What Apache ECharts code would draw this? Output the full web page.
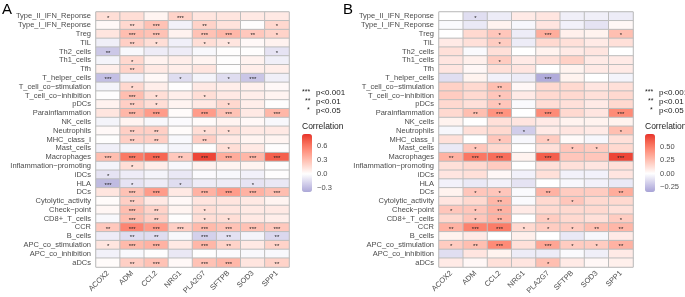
<!DOCTYPE html>
<html>
<head>
<meta charset="utf-8">
<script src="https://cdn.jsdelivr.net/npm/echarts@6/dist/echarts.min.js"></script>
<style>
html, body { margin: 0; padding: 0; background: #fff; }
#chart { width: 685px; height: 297px; }
</style>
</head>
<body>
<div id="chart"></div>
<script>
// row / column labels (top to bottom)
var rows = ['Type_II_IFN_Reponse', 'Type_I_IFN_Reponse', 'Treg', 'TIL', 'Th2_cells', 'Th1_cells', 'Tfh',
	'T_helper_cells', 'T_cell_co\u2212stimulation', 'T_cell_co\u2212inhibition', 'pDCs', 'Parainflammation',
	'NK_cells', 'Neutrophils', 'MHC_class_I', 'Mast_cells', 'Macrophages', 'Inflammation\u2212promoting',
	'iDCs', 'HLA', 'DCs', 'Cytolytic_activity', 'Check\u2212point', 'CD8+_T_cells', 'CCR', 'B_cells',
	'APC_co_stimulation', 'APC_co_inhibition', 'aDCs'];
var genes = ['ACOX2', 'ADM', 'CCL2', 'NRG1', 'PLA2G7', 'SFTPB', 'SOD3', 'SPP1'];

// panel A correlations
var corA = [
	[0.15, 0.15, 0.05, 0.20, 0.12, 0.12, 0.10, 0.10],
	[0.03, 0.18, 0.28, -0.06, 0.20, 0.13, 0.00, 0.18],
	[0.12, 0.30, 0.28, 0.06, 0.28, 0.33, 0.25, 0.20],
	[-0.07, 0.22, 0.15, -0.07, 0.15, 0.12, 0.03, 0.06],
	[-0.24, -0.03, -0.08, -0.08, -0.03, 0.00, 0.00, -0.12],
	[-0.05, 0.18, 0.06, 0.08, 0.05, 0.00, 0.06, -0.07],
	[0.08, 0.20, 0.10, 0.08, 0.12, 0.00, 0.08, 0.08],
	[-0.28, -0.06, 0.03, -0.15, -0.05, -0.15, -0.25, -0.07],
	[-0.05, 0.18, 0.08, 0.00, 0.10, 0.08, 0.07, 0.03],
	[0.00, 0.30, 0.15, 0.08, 0.15, 0.10, 0.08, 0.05],
	[0.06, 0.22, 0.15, 0.05, 0.10, 0.18, 0.08, 0.00],
	[0.12, 0.33, 0.45, 0.02, 0.45, 0.28, 0.10, 0.33],
	[-0.05, 0.05, -0.03, -0.02, 0.02, 0.05, 0.03, -0.03],
	[0.03, 0.22, 0.22, 0.02, 0.15, 0.15, 0.10, 0.10],
	[0.00, 0.22, 0.22, -0.03, 0.22, 0.10, 0.05, 0.05],
	[-0.07, -0.05, -0.03, -0.05, 0.00, 0.15, 0.10, 0.00],
	[0.30, 0.60, 0.68, 0.25, 0.80, 0.38, 0.33, 0.70],
	[-0.05, 0.15, 0.08, -0.03, 0.06, 0.05, 0.05, 0.00],
	[-0.12, -0.08, -0.05, -0.10, -0.02, -0.03, -0.06, 0.00],
	[-0.30, -0.12, -0.08, -0.15, -0.08, -0.08, -0.12, -0.10],
	[0.12, 0.28, 0.45, 0.10, 0.35, 0.45, 0.35, 0.30],
	[0.02, 0.22, 0.10, 0.03, 0.12, 0.12, 0.10, 0.05],
	[0.04, 0.30, 0.20, 0.05, 0.15, 0.12, 0.10, 0.10],
	[-0.03, 0.30, 0.22, 0.00, 0.15, 0.15, 0.10, 0.08],
	[0.25, 0.55, 0.45, 0.22, 0.32, 0.28, 0.28, 0.25],
	[-0.08, -0.15, -0.15, -0.03, -0.20, -0.13, -0.05, -0.17],
	[0.12, 0.32, 0.35, 0.10, 0.33, 0.20, 0.10, 0.20],
	[-0.06, -0.03, 0.00, -0.10, 0.00, -0.02, -0.03, -0.03],
	[0.02, 0.22, 0.28, 0.03, 0.28, 0.33, 0.12, 0.20]
];
// panel A significance (number of stars)
var sigA = [
	[1, 0, 0, 3, 0, 0, 0, 0],
	[0, 2, 3, 0, 2, 0, 0, 1],
	[0, 3, 3, 0, 3, 3, 2, 1],
	[0, 2, 1, 0, 1, 1, 0, 0],
	[2, 0, 0, 0, 0, 0, 0, 1],
	[0, 1, 0, 0, 0, 0, 0, 0],
	[0, 2, 0, 0, 0, 0, 0, 0],
	[3, 0, 0, 1, 0, 1, 3, 0],
	[0, 1, 0, 0, 0, 0, 0, 0],
	[0, 3, 1, 0, 1, 0, 0, 0],
	[0, 2, 1, 0, 0, 1, 0, 0],
	[0, 3, 3, 0, 3, 3, 0, 3],
	[0, 0, 0, 0, 0, 0, 0, 0],
	[0, 2, 2, 0, 1, 1, 0, 0],
	[0, 2, 2, 0, 2, 0, 0, 0],
	[0, 0, 0, 0, 0, 1, 0, 0],
	[3, 3, 3, 2, 3, 3, 3, 3],
	[0, 1, 0, 0, 0, 0, 0, 0],
	[1, 0, 0, 0, 0, 0, 0, 0],
	[3, 1, 0, 1, 0, 0, 1, 0],
	[0, 3, 3, 0, 3, 3, 3, 3],
	[0, 2, 0, 0, 0, 0, 0, 0],
	[0, 3, 2, 0, 1, 0, 0, 0],
	[0, 3, 2, 0, 1, 1, 0, 0],
	[2, 3, 3, 3, 3, 3, 3, 3],
	[0, 2, 2, 0, 3, 2, 0, 2],
	[1, 3, 3, 0, 3, 2, 0, 2],
	[0, 0, 0, 0, 0, 0, 0, 0],
	[0, 2, 3, 0, 3, 3, 0, 2]
];

// panel B correlations
var corB = [
	[0.00, -0.12, -0.07, 0.08, 0.10, -0.06, -0.06, -0.07],
	[-0.02, -0.08, 0.05, -0.03, 0.10, -0.05, -0.10, 0.03],
	[0.00, 0.15, 0.22, -0.07, 0.32, 0.06, 0.05, 0.25],
	[0.08, 0.12, 0.20, -0.07, 0.15, 0.12, 0.08, 0.12],
	[0.12, -0.02, 0.12, 0.00, 0.05, 0.08, 0.10, 0.00],
	[0.10, 0.06, 0.20, 0.08, 0.12, 0.18, 0.08, 0.08],
	[0.10, 0.03, 0.12, 0.10, 0.00, 0.05, 0.08, 0.08],
	[-0.12, 0.05, -0.05, -0.07, -0.30, 0.05, 0.00, -0.04],
	[0.18, 0.15, 0.25, 0.03, 0.15, 0.15, 0.10, 0.12],
	[0.20, 0.15, 0.22, 0.08, 0.15, 0.15, 0.12, 0.15],
	[0.15, 0.12, 0.22, -0.02, 0.13, 0.12, 0.08, 0.15],
	[0.15, 0.25, 0.42, 0.00, 0.45, 0.15, 0.10, 0.45],
	[0.05, 0.00, 0.12, 0.10, 0.08, 0.05, 0.05, 0.05],
	[-0.03, 0.12, 0.15, -0.18, 0.08, 0.10, 0.08, 0.25],
	[0.12, 0.00, 0.22, -0.03, 0.20, 0.02, -0.03, 0.12],
	[-0.08, 0.22, 0.15, 0.00, 0.12, 0.22, 0.20, 0.15],
	[0.30, 0.52, 0.55, 0.05, 0.60, 0.22, 0.22, 0.68],
	[0.12, 0.15, 0.20, 0.00, 0.12, 0.12, 0.10, 0.12],
	[0.10, 0.12, 0.03, -0.05, 0.12, -0.05, -0.05, 0.10],
	[-0.05, -0.08, -0.05, -0.10, 0.00, -0.03, -0.05, -0.08],
	[0.05, 0.22, 0.22, -0.02, 0.30, 0.20, 0.20, 0.32],
	[0.10, 0.15, 0.28, -0.02, 0.15, 0.22, 0.15, 0.15],
	[0.22, 0.22, 0.30, 0.08, 0.15, 0.15, 0.15, 0.12],
	[0.15, 0.22, 0.30, 0.00, 0.20, 0.15, 0.12, 0.20],
	[0.30, 0.48, 0.50, 0.15, 0.20, 0.20, 0.25, 0.28],
	[0.05, 0.08, 0.00, 0.06, 0.00, -0.08, -0.03, 0.08],
	[0.20, 0.25, 0.45, 0.12, 0.35, 0.20, 0.20, 0.30],
	[-0.12, 0.10, 0.05, -0.07, -0.07, -0.02, -0.06, 0.08],
	[0.08, 0.03, 0.12, 0.10, 0.25, 0.08, 0.03, 0.06]
];
var sigB = [
	[0, 1, 0, 0, 0, 0, 0, 0],
	[0, 0, 0, 0, 0, 0, 0, 0],
	[0, 0, 1, 0, 3, 0, 0, 1],
	[0, 0, 1, 0, 0, 0, 0, 0],
	[0, 0, 0, 0, 0, 0, 0, 0],
	[0, 0, 1, 0, 0, 0, 0, 0],
	[0, 0, 0, 0, 0, 0, 0, 0],
	[0, 0, 0, 0, 3, 0, 0, 0],
	[0, 0, 2, 0, 0, 0, 0, 0],
	[0, 0, 1, 0, 0, 0, 0, 0],
	[0, 0, 1, 0, 0, 0, 0, 0],
	[0, 2, 3, 0, 3, 0, 0, 3],
	[0, 0, 0, 0, 0, 0, 0, 0],
	[0, 0, 0, 1, 0, 0, 0, 1],
	[0, 0, 1, 0, 1, 0, 0, 0],
	[0, 1, 0, 0, 0, 1, 1, 0],
	[2, 3, 3, 0, 3, 0, 0, 3],
	[0, 0, 0, 0, 0, 0, 0, 0],
	[0, 0, 0, 0, 0, 0, 0, 0],
	[0, 0, 0, 0, 0, 0, 0, 0],
	[0, 1, 1, 0, 2, 0, 0, 2],
	[0, 0, 2, 0, 0, 1, 0, 0],
	[1, 1, 2, 0, 0, 0, 0, 0],
	[0, 1, 2, 0, 1, 0, 0, 1],
	[2, 3, 3, 1, 1, 1, 2, 2],
	[0, 0, 0, 0, 0, 0, 0, 0],
	[1, 2, 3, 0, 3, 1, 1, 2],
	[0, 0, 0, 0, 0, 0, 0, 0],
	[0, 0, 0, 0, 1, 0, 0, 0]
];

// colour bar ranges and tick labels
var rangeA = [-0.39, 0.86];
var ticksA = [-0.3, 0.6, 0.3];   // min, max, step
var rangeB = [-0.34, 0.73];
var ticksB = [-0.25, 0.5, 0.25];

var FONT = '"Liberation Sans", Arial, sans-serif';
var GREY = '#4d4d4d';

// Lab interpolation (like ggplot's gradient2)
function toLab(h) {
	var c = [1, 3, 5].map(function(i) {
		var v = parseInt(h.substr(i, 2), 16) / 255;
		return v <= 0.04045 ? v / 12.92 : Math.pow((v + 0.055) / 1.055, 2.4);
	});
	var x = (0.4124 * c[0] + 0.3576 * c[1] + 0.1805 * c[2]) / 0.95047;
	var y = 0.2126 * c[0] + 0.7152 * c[1] + 0.0722 * c[2];
	var z = (0.0193 * c[0] + 0.1192 * c[1] + 0.9505 * c[2]) / 1.08883;
	var f = function(t) { return t > 0.008856 ? Math.cbrt(t) : 7.787 * t + 16 / 116; };
	return [116 * f(y) - 16, 500 * (f(x) - f(y)), 200 * (f(y) - f(z))];
}
function fromLab(L) {
	var fy = (L[0] + 16) / 116, fx = fy + L[1] / 500, fz = fy - L[2] / 200;
	var g = function(t) { return t * t * t > 0.008856 ? t * t * t : (t - 16 / 116) / 7.787; };
	var x = g(fx) * 0.95047, y = g(fy), z = g(fz) * 1.08883;
	var r = 3.2406 * x - 1.5372 * y - 0.4986 * z;
	var gg = -0.9689 * x + 1.8758 * y + 0.0415 * z;
	var b = 0.0557 * x - 0.2040 * y + 1.0570 * z;
	return 'rgb(' + [r, gg, b].map(function(v) {
		v = v <= 0.0031308 ? 12.92 * v : 1.055 * Math.pow(v, 1 / 2.4) - 0.055;
		return Math.max(0, Math.min(255, Math.round(v * 255)));
	}).join(',') + ')';
}
function mix(c1, c2, t) {
	var a = toLab(c1), b = toLab(c2);
	return fromLab([0, 1, 2].map(function(i) { return a[i] + (b[i] - a[i]) * t; }));
}
// diverging ramp, white at 0
function ramp(min, max, low, high) {
	var out = [];
	var n = 61;
	for (var k = 0; k < n; k++) {
		var v = min + (max - min) * k / (n - 1);
		if (v < 0) out.push(mix('#ffffff', low, v / min));
		else out.push(mix('#ffffff', high, v / max));
	}
	return out;
}
function toData(cor, sig) {
	var d = [];
	for (var i = 0; i < rows.length; i++) {
		for (var j = 0; j < genes.length; j++) {
			d.push([j, i, cor[i][j], sig[i][j]]);
		}
	}
	return d;
}

var barTop = 134, barH = 58, barW = 10;
function tickGrid(left, range, ticks) {
	var pxPer = barH / (range[1] - range[0]);
	return {
		left: left, width: barW,
		top: barTop + (range[1] - ticks[1]) * pxPer,
		height: (ticks[1] - ticks[0]) * pxPer,
		show: false
	};
}

var panels = [
	{gridLeft: 96, gridW: 193, cor: corA, sig: sigA, range: rangeA, ticks: ticksA, low: '#aca7d8', high: '#e8302a', legX: 302, digits: 1},
	{gridLeft: 439, gridW: 194, cor: corB, sig: sigB, range: rangeB, ticks: ticksB, low: '#a7a2d7', high: '#e8302a', legX: 645, digits: 2}
];

var grids = [], xAxes = [], yAxes = [], series = [], visualMaps = [], graphics = [];
panels.forEach(function(p, k) {
	var gHeat = 2 * k, gBar = 2 * k + 1;
	grids.push({left: p.gridLeft, top: 12, width: p.gridW, height: 258, show: true, borderColor: '#bdbdbd', borderWidth: 1});
	grids.push(tickGrid(p.legX, p.range, p.ticks));
	xAxes.push({
		type: 'category', gridIndex: gHeat, data: genes, position: 'bottom',
		axisLine: {show: false}, axisTick: {show: false}, splitArea: {show: false},
		axisLabel: {interval: 0, rotate: 45, margin: 5, fontSize: 7.5, color: GREY, fontFamily: FONT}
	});
	xAxes.push({type: 'value', gridIndex: gBar, show: false});
	yAxes.push({
		type: 'category', gridIndex: gHeat, data: rows, inverse: true,
		axisLine: {show: false}, axisTick: {show: false},
		axisLabel: {interval: 0, margin: 5, fontSize: 7.5, color: GREY, fontFamily: FONT}
	});
	// colour bar tick labels on a small value axis laid over the bar
	yAxes.push({
		type: 'value', gridIndex: gBar, position: 'right',
		min: p.ticks[0], max: p.ticks[1], interval: p.ticks[2],
		axisLine: {show: false}, splitLine: {show: false},
		axisTick: {show: true, inside: true, length: 2, lineStyle: {color: '#fff', width: 1}},
		axisLabel: {
			margin: 5, fontSize: 7.5, color: GREY, fontFamily: FONT,
			formatter: (function(dg) {
				return function(v) { return (v < 0 ? '\u2212' : '') + Math.abs(v).toFixed(dg); };
			})(p.digits)
		}
	});
	series.push({
		type: 'heatmap', xAxisIndex: gHeat, yAxisIndex: gHeat,
		data: toData(p.cor, p.sig),
		itemStyle: {borderColor: '#bdbdbd', borderWidth: 1},
		label: {
			show: true, fontSize: 6, color: '#222', fontFamily: FONT, offset: [0, 1.5],
			formatter: function(q) { return q.data[3] ? '***'.substr(0, q.data[3]) : ''; }
		},
		emphasis: {disabled: true}
	});
	visualMaps.push({
		type: 'continuous', seriesIndex: k, dimension: 2,
		min: p.range[0], max: p.range[1], calculable: false,
		left: p.legX, top: barTop, itemWidth: barW, itemHeight: barH, padding: 0,
		showLabel: false, text: null,
		inRange: {color: ramp(p.range[0], p.range[1], p.low, p.high)}
	});
	// significance key + title
	var sx = p.legX;
	graphics.push(
		{type: 'text', left: sx, top: 89, style: {text: '***', fontSize: 7, fill: '#222', fontFamily: FONT}},
		{type: 'text', left: sx + 14, top: 89, style: {text: 'p<0.001', fontSize: 8, fill: '#222', fontFamily: FONT}},
		{type: 'text', left: sx + 3, top: 98, style: {text: '**', fontSize: 7, fill: '#222', fontFamily: FONT}},
		{type: 'text', left: sx + 14, top: 98, style: {text: 'p<0.01', fontSize: 8, fill: '#222', fontFamily: FONT}},
		{type: 'text', left: sx + 5, top: 107, style: {text: '*', fontSize: 7, fill: '#222', fontFamily: FONT}},
		{type: 'text', left: sx + 14, top: 107, style: {text: 'p<0.05', fontSize: 8, fill: '#222', fontFamily: FONT}},
		{type: 'text', left: sx, top: 122, style: {text: 'Correlation', fontSize: 8.5, fill: '#222', fontFamily: FONT}}
	);
});
graphics.push(
	{type: 'text', left: 2, top: 2, style: {text: 'A', fontSize: 15, fill: '#000', fontFamily: FONT}},
	{type: 'text', left: 343, top: 2, style: {text: 'B', fontSize: 15, fill: '#000', fontFamily: FONT}}
);

var myChart = echarts.init(document.getElementById('chart'), null, {renderer: 'canvas'});
myChart.setOption({
	animation: false,
	backgroundColor: '#fff',
	grid: grids,
	xAxis: xAxes,
	yAxis: yAxes,
	visualMap: visualMaps,
	series: series,
	graphic: graphics
});
</script>
</body>
</html>
